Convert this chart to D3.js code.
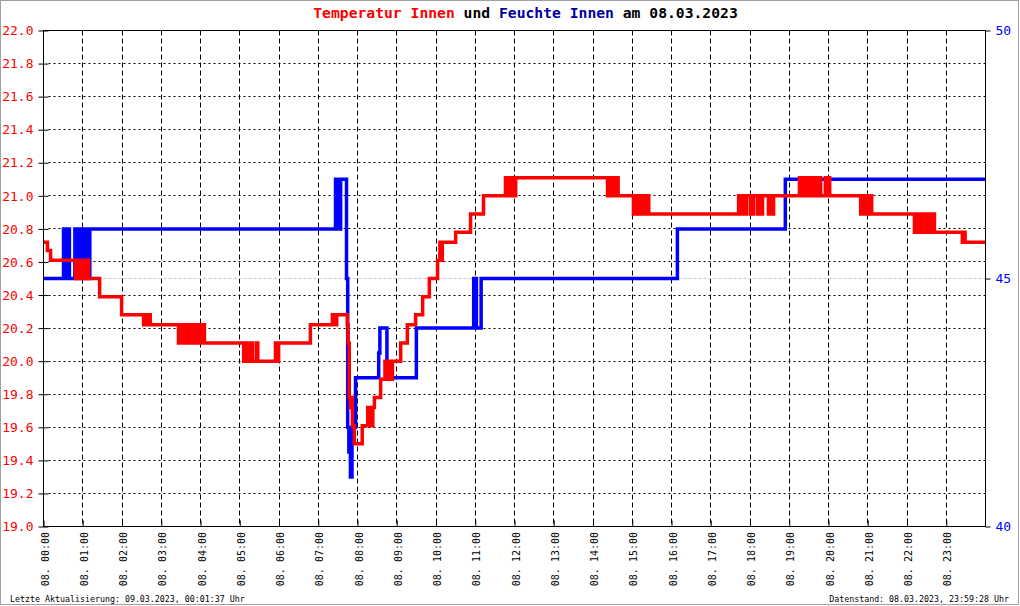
<!DOCTYPE html>
<html><head><meta charset="utf-8">
<script src="https://cdn.jsdelivr.net/npm/d3@7"></script>
<style>body{margin:0;background:#fff}svg{display:block}</style>
</head><body>
<svg id="c" width="1020" height="606"></svg>
<script>
// ---------- data ----------
const hourTicks = [0,1,2,3,4,5,6,7,8,9,10,11,12,13,14,15,16,17,18,19,20,21,22,23];
const hourLabels = ["08. 00:00","08. 01:00","08. 02:00","08. 03:00","08. 04:00","08. 05:00",
  "08. 06:00","08. 07:00","08. 08:00","08. 09:00","08. 10:00","08. 11:00","08. 12:00",
  "08. 13:00","08. 14:00","08. 15:00","08. 16:00","08. 17:00","08. 18:00","08. 19:00",
  "08. 20:00","08. 21:00","08. 22:00","08. 23:00"];
const tempTicks = [19.0,19.2,19.4,19.6,19.8,20.0,20.2,20.4,20.6,20.8,21.0,21.2,21.4,21.6,21.8,22.0];
const humTicks = [40,45,50];

// temperature [hour, °C] (step after)
const tempSeries = [
 [0.00,20.72],[0.10,20.67],[0.18,20.61],
 [0.82,20.50],[0.86,20.61],[0.95,20.50],[0.99,20.56],[1.04,20.61],[1.06,20.50],[1.09,20.61],
 [1.15,20.50],[1.43,20.39],[1.99,20.28],
 [2.55,20.22],[2.59,20.28],[2.64,20.22],[2.67,20.28],[2.72,20.22],
 [3.44,20.11],[3.47,20.22],[3.52,20.11],[3.55,20.22],[3.63,20.11],[3.66,20.22],[3.72,20.11],[3.75,20.22],
 [3.80,20.11],[3.84,20.22],[3.90,20.11],[3.93,20.22],[4.00,20.11],[4.03,20.22],[4.10,20.11],
 [5.10,20.00],[5.14,20.11],[5.18,20.00],[5.27,20.11],[5.32,20.00],[5.42,20.11],[5.46,20.00],
 [5.91,20.11],[5.94,20.00],[5.99,20.11],
 [6.80,20.22],
 [7.36,20.28],[7.39,20.22],[7.42,20.28],[7.45,20.22],[7.47,20.28],
 [7.74,20.22],[7.76,20.11],[7.79,19.78],[7.82,19.72],[7.85,19.78],[7.87,19.61],[7.92,19.50],
 [8.12,19.61],
 [8.26,19.72],[8.29,19.61],[8.33,19.72],[8.36,19.61],[8.39,19.72],
 [8.43,19.78],[8.59,19.89],
 [8.70,20.00],[8.73,19.89],[8.80,20.00],[8.83,19.89],
 [8.89,20.00],[9.10,20.11],[9.27,20.22],[9.48,20.28],[9.66,20.39],[9.83,20.50],[10.04,20.61],
 [10.10,20.72],[10.13,20.61],[10.16,20.72],
 [10.50,20.78],[10.88,20.89],[11.21,21.00],
 [11.77,21.11],[11.80,21.00],[11.85,21.11],[11.88,21.00],[11.93,21.11],[11.96,21.00],
 [12.03,21.11],
 [14.37,21.00],[14.41,21.11],[14.45,21.00],[14.50,21.11],[14.54,21.00],[14.60,21.11],[14.64,21.00],
 [15.03,20.89],[15.07,21.00],[15.12,20.89],[15.15,21.00],[15.22,20.89],[15.26,21.00],[15.33,20.89],[15.36,21.00],[15.42,20.89],
 [17.71,21.00],[17.74,20.89],[17.77,21.00],[17.80,20.89],[17.84,21.00],[17.87,20.89],[17.91,21.00],
 [18.01,20.89],[18.04,21.00],[18.07,20.89],[18.09,21.00],
 [18.19,20.89],[18.23,21.00],[18.26,20.89],[18.32,21.00],
 [18.47,20.89],[18.51,21.00],[18.55,20.89],[18.60,21.00],
 [19.26,21.11],[19.30,21.00],[19.33,21.11],[19.41,21.00],
 [19.49,21.11],[19.53,21.00],[19.57,21.11],[19.62,21.00],[19.66,21.11],[19.72,21.00],[19.75,21.11],[19.80,21.00],
 [19.92,21.11],[19.96,21.00],[19.99,21.11],[20.03,21.00],
 [20.82,20.89],[20.85,21.00],[20.87,20.89],[20.90,21.00],[20.97,20.89],[21.00,21.00],[21.03,20.89],[21.06,21.00],[21.10,20.89],
 [22.19,20.78],[22.23,20.89],[22.26,20.78],[22.30,20.89],[22.34,20.78],[22.38,20.89],
 [22.47,20.78],[22.50,20.89],[22.54,20.78],[22.58,20.89],[22.62,20.78],[22.66,20.89],[22.70,20.78],
 [23.41,20.72],[23.44,20.78],[23.48,20.72],
 [24.00,20.72]
];

// humidity [hour, %] (step after)
const humSeries = [
 [0.00,45],[0.51,46],[0.56,45],[0.62,46],[0.66,45],
 [0.80,46],[0.83,45],[0.86,46],[0.88,45],[0.92,46],[0.95,45],[0.98,46],[1.02,45],[1.05,46],[1.08,45],[1.12,46],[1.15,45],[1.18,46],
 [7.44,47],[7.47,46],[7.50,47],[7.53,46],[7.57,47],
 [7.72,45],[7.75,42],[7.78,41.5],[7.81,42],[7.82,41],[7.86,42],[7.95,43],
 [8.54,43.5],[8.57,44],[8.75,43],
 [9.50,44],
 [10.96,45],[11.03,44],[11.15,45],
 [16.15,46],
 [18.90,47],
 [24.00,47]
];

const titleParts = [["Temperatur Innen","#ff0000"],[" und ","#000000"],["Feuchte Innen","#00009c"],[" am 08.03.2023","#000000"]];
const footLeft = "Letzte Aktualisierung: 09.03.2023, 00:01:37 Uhr";
const footRight = "Datenstand: 08.03.2023, 23:59:28 Uhr";

// ---------- drawing ----------
const svg = d3.select("#c");
const mono = "'DejaVu Sans Mono', 'Liberation Mono', monospace";
const L = 43.5, R = 985.5, T = 30.5, B = 526.5;
const x = d3.scaleLinear().domain([0,24]).range([L,R]);
const yT = d3.scaleLinear().domain([19,22]).range([B,T]);
const yH = d3.scaleLinear().domain([40,50]).range([B,T]);
const snap = v => Math.round(v-0.5)+0.5;

svg.append("rect").attr("x",0.5).attr("y",0.5).attr("width",1018).attr("height",604)
  .attr("fill","#fff").attr("stroke","#a0a0a0");

// horizontal dotted grid
svg.append("g").selectAll("line").data(tempTicks.filter(d=>d>19 && d<22)).join("line")
  .attr("x1",L+5).attr("x2",R).attr("y1",d=>snap(yT(d))).attr("y2",d=>snap(yT(d)))
  .attr("stroke","#000").attr("stroke-dasharray","2,3");
// vertical dashed grid
svg.append("g").selectAll("line").data(hourTicks.filter(d=>d>0)).join("line")
  .attr("x1",d=>snap(x(d))).attr("x2",d=>snap(x(d))).attr("y1",T).attr("y2",B)
  .attr("stroke","#000").attr("stroke-dasharray","5,3");
// humidity 45 grid
svg.append("line").attr("x1",L).attr("x2",R).attr("y1",snap(yH(45))).attr("y2",snap(yH(45)))
  .attr("stroke","#c8c8c8").attr("stroke-dasharray","3,2");

// series
const lineH = d3.line().x(d=>x(d[0])).y(d=>yH(d[1])).curve(d3.curveStepAfter);
const lineT = d3.line().x(d=>x(d[0])).y(d=>yT(d[1])).curve(d3.curveStepAfter);
svg.append("path").datum(humSeries).attr("d",lineH).attr("fill","none").attr("stroke","#0000ff")
  .attr("stroke-width",3.5);
svg.append("path").datum(tempSeries).attr("d",lineT).attr("fill","none").attr("stroke","#ff0000")
  .attr("stroke-width",3.5);

// left axis
const axL = svg.append("g").attr("transform",`translate(${L},0)`)
  .call(d3.axisLeft(yT).tickValues(tempTicks).tickFormat(d3.format(".1f")).tickSizeInner(5).tickSizeOuter(0).tickPadding(5));
axL.select(".domain").remove();
axL.selectAll(".tick line").attr("x2",-5).attr("x1",5).attr("stroke","#000");
axL.selectAll(".tick text").attr("fill","#ff0000").style("font-family",mono).style("font-size","13px");

// right axis
const axR = svg.append("g").attr("transform",`translate(${R},0)`)
  .call(d3.axisRight(yH).tickValues(humTicks).tickSizeInner(5).tickSizeOuter(0).tickPadding(5));
axR.select(".domain").remove();
axR.selectAll(".tick line").attr("stroke","#000");
axR.selectAll(".tick text").attr("fill","#0000ff").style("font-family",mono).style("font-size","13px");

// bottom axis ticks
const axB = svg.append("g").attr("transform",`translate(0,${B})`)
  .call(d3.axisBottom(x).tickValues(hourTicks).tickSizeInner(-6).tickSizeOuter(0).tickFormat(""));
axB.select(".domain").remove();
axB.selectAll(".tick line").attr("stroke","#000");

// x labels rotated
svg.append("g").selectAll("text").data(hourTicks).join("text")
  .attr("transform",d=>`translate(${x(d)+1.5},532) rotate(-90)`)
  .attr("text-anchor","end").attr("dy","0.35em")
  .style("font-family",mono).style("font-size","10px").attr("fill","#000")
  .text((d,i)=>hourLabels[i]);

// frame
svg.append("rect").attr("x",L).attr("y",T).attr("width",R-L).attr("height",B-T)
  .attr("fill","none").attr("stroke","#000");

// title
const title = svg.append("text").attr("x",525.5).attr("y",18).attr("text-anchor","middle")
  .attr("xml:space","preserve")
  .style("font-family",mono).style("font-size","14.7px").style("font-weight","bold");
title.selectAll("tspan").data(titleParts).join("tspan").attr("fill",d=>d[1]).style("white-space","pre").text(d=>d[0]);

// footer
svg.append("text").attr("x",10).attr("y",602).style("font-family",mono).style("font-size","8.3px").attr("fill","#000").text(footLeft);
svg.append("text").attr("x",1009).attr("y",602).attr("text-anchor","end").style("font-family",mono).style("font-size","8.3px").attr("fill","#000").text(footRight);
</script>
</body></html>
